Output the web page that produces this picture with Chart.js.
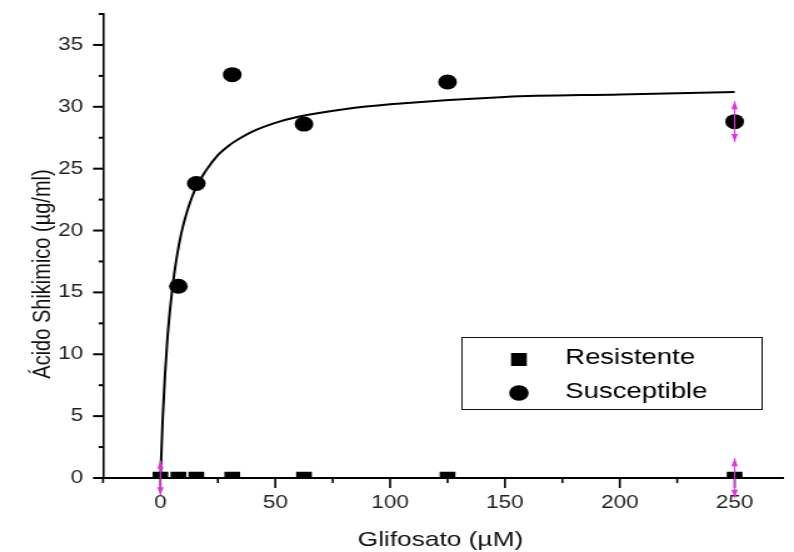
<!DOCTYPE html>
<html>
<head>
<meta charset="utf-8">
<script src="https://cdn.jsdelivr.net/npm/chart.js@4.4.0/dist/chart.umd.min.js"></script>
<style>
  html, body { margin: 0; padding: 0; background: #fff; }
  #chart { display: block; width: 794px !important; height: 552px !important; }
</style>
</head>
<body>
<canvas id="chart" width="635" height="552" style="width:794px;height:552px"></canvas>
<script>
// doses (µM) and measured shikimic acid (µg/ml)
const doses = [0, 7.8, 15.6, 31.25, 62.5, 125, 250];
const resistente = [0, 0, 0, 0, 0, 0, 0];
const susceptible = [null, 15.5, 23.8, 32.6, 28.6, 32.0, 28.8];
const resistenteErr = [1.4, 0, 0, 0, 0, 0, 1.6];
const susceptibleErr = [0, 0, 0, 0, 0, 0, 1.65];

// fitted curve
const curveX = [0, 1, 2, 3, 4, 6, 8, 10, 15, 20, 25, 30, 35, 40, 50, 60, 80, 100, 150, 200, 250];
const curveY = [0, 4.9, 8.4, 11.2, 13.3, 16.5, 18.8, 20.5, 23.3, 24.9, 26.1, 26.9, 27.5, 28.0, 28.7, 29.2, 29.8, 30.2, 30.8, 31.0, 31.2];

const xMajor = [0, 50, 100, 150, 200, 250];
const xMinor = [-25, 25, 75, 125, 175, 225];
const yMajor = [0, 5, 10, 15, 20, 25, 30, 35];
const yMinor = [2.5, 7.5, 12.5, 17.5, 22.5, 27.5, 32.5, 37.5];

const FONT = '"Liberation Sans", Arial, sans-serif';

const pts = (ys) => doses.map((d, i) => ({ x: d, y: ys[i] })).filter(p => p.y !== null);

const decor = {
  id: 'decor',
  afterDraw(chart) {
    const { ctx, chartArea: a, scales: { x, y } } = chart;
    ctx.save();
    ctx.strokeStyle = '#000';
    // ticks
    ctx.lineWidth = 1.6;
    xMajor.concat(xMinor).forEach(v => {
      const px = x.getPixelForValue(v);
      const len = xMajor.includes(v) ? 10 : 5;
      ctx.beginPath(); ctx.moveTo(px, a.bottom); ctx.lineTo(px, a.bottom + len); ctx.stroke();
    });
    ctx.lineWidth = 2;
    yMajor.concat(yMinor).forEach(v => {
      const py = y.getPixelForValue(v);
      const len = yMajor.includes(v) ? 8 : 3.5;
      ctx.beginPath(); ctx.moveTo(a.left, py); ctx.lineTo(a.left - len, py); ctx.stroke();
    });

    // error bars
    ctx.strokeStyle = '#dd33dd';
    ctx.fillStyle = '#dd33dd';
    ctx.lineWidth = 1.2;
    const bar = (xv, yv, e) => {
      if (!e) return;
      const px = x.getPixelForValue(xv);
      const top = y.getPixelForValue(yv + e), bot = y.getPixelForValue(yv - e);
      ctx.beginPath(); ctx.moveTo(px, top); ctx.lineTo(px, bot); ctx.stroke();
      ctx.beginPath(); ctx.moveTo(px, top); ctx.lineTo(px - 2.6, top + 8); ctx.lineTo(px + 2.6, top + 8); ctx.fill();
      ctx.beginPath(); ctx.moveTo(px, bot); ctx.lineTo(px - 2.6, bot - 8); ctx.lineTo(px + 2.6, bot - 8); ctx.fill();
    };
    doses.forEach((d, i) => {
      bar(d, resistente[i], resistenteErr[i]);
      if (susceptible[i] !== null) bar(d, susceptible[i], susceptibleErr[i]);
    });

    // legend box
    ctx.strokeStyle = '#111';
    ctx.lineWidth = 1;
    ctx.strokeRect(369.5, 337.5, 240, 72);
    ctx.fillStyle = '#000';
    ctx.font = '22px ' + FONT;
    ctx.textBaseline = 'alphabetic';
    ctx.textAlign = 'left';
    const items = chart.data.datasets.filter(ds => ds.label);
    items.forEach((ds, i) => {
      const cy = 359.5 + i * 33.5;
      if (ds.pointStyle === 'rect') {
        ctx.fillRect(415 - 6.3, cy - 6.5, 12.6, 13);
      } else {
        ctx.beginPath(); ctx.arc(415, cy, 7.8, 0, Math.PI * 2); ctx.fill();
      }
      ctx.fillText(ds.label, 452, cy + 4 + i * 0.5);
    });

    // axis titles
    ctx.fillStyle = '#111';
    ctx.font = '21px ' + FONT;
    ctx.textAlign = 'center';
    ctx.fillText('Glifosato (µM)', (a.left + a.right) / 2 - 2, 546);
    ctx.font = '20px ' + FONT;
    ctx.translate(40, 274);
    ctx.rotate(-Math.PI / 2);
    ctx.fillText('Ácido Shikimico (µg/ml)', 0, 0);
    ctx.restore();
  }
};

new Chart(document.getElementById('chart'), {
  type: 'scatter',
  data: {
    datasets: [
      {
        label: 'Resistente',
        data: pts(resistente),
        pointStyle: 'rect',
        pointRadius: 8.9,
        backgroundColor: '#000',
        borderWidth: 0,
        clip: 0
      },
      {
        label: 'Susceptible',
        data: pts(susceptible),
        pointStyle: 'circle',
        pointRadius: 7.5,
        backgroundColor: '#000',
        borderWidth: 0
      },
      {
        data: curveX.map((v, i) => ({ x: v, y: curveY[i] })),
        showLine: true,
        pointRadius: 0,
        borderColor: '#000',
        borderWidth: 2,
        cubicInterpolationMode: 'monotone'
      }
    ]
  },
  options: {
    responsive: false,
    animation: false,
    events: [],
    layout: { padding: { top: 14, right: 0, left: 0, bottom: 0 } },
    plugins: { legend: { display: false }, tooltip: { enabled: false } },
    scales: {
      x: {
        type: 'linear',
        min: -25,
        max: 271,
        z: 1,
        afterBuildTicks: s => { s.ticks = xMajor.map(v => ({ value: v })); },
        afterFit: s => { s.height = 74; s.paddingLeft = 0; s.paddingRight = 0; },
        grid: { display: false, drawTicks: false },
        border: { display: true, color: '#000', width: 2 },
        ticks: { padding: 14, color: '#222', font: { family: FONT, size: 18 }, maxRotation: 0 }
      },
      y: {
        min: 0,
        max: 37.5,
        z: 1,
        afterBuildTicks: s => { s.ticks = yMajor.map(v => ({ value: v })); },
        afterFit: s => { s.width = 82.4; s.paddingTop = 0; s.paddingBottom = 0; },
        grid: { display: false, drawTicks: false },
        border: { display: true, color: '#000', width: 1.6 },
        ticks: { padding: 16, color: '#222', font: { family: FONT, size: 18 } }
      }
    }
  },
  plugins: [decor]
});
</script>
</body>
</html>
